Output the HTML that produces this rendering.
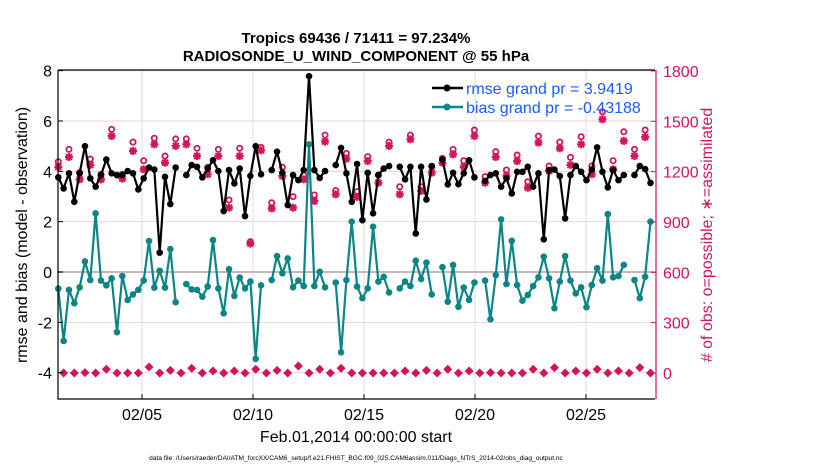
<!DOCTYPE html>
<html><head><meta charset="utf-8"><style>
body{margin:0;background:#fff;}
svg{display:block;font-family:"Liberation Sans",Arial,sans-serif;}
</style></head><body>
<svg id="chart" width="830" height="470" viewBox="0 0 830 470" xmlns="http://www.w3.org/2000/svg">
<rect width="830" height="470" fill="#fff"/>
<text x="356" y="43" font-size="15" font-weight="bold" text-anchor="middle">Tropics 69436 / 71411 = 97.234%</text>
<text x="356" y="61" font-size="15" font-weight="bold" text-anchor="middle">RADIOSONDE_U_WIND_COMPONENT @ 55 hPa</text>
<g id="grid"></g>
<g id="marks"></g>
<g id="axes"></g>
<text transform="translate(27,235) rotate(-90)" font-size="16" text-anchor="middle">rmse and bias (model - observation)</text>
<text transform="translate(712,235) rotate(-90)" font-size="16" fill="#d4145a" text-anchor="middle"># of obs: o=possible; ∗=assimilated</text>
<text x="356" y="442" font-size="16" text-anchor="middle">Feb.01,2014 00:00:00 start</text>
<text x="356" y="460" font-size="6.6" text-anchor="middle">data file: /Users/raeder/DAI/ATM_forcXX/CAM6_setup/f.e21.FHIST_BGC.f09_025.CAM6assim.011/Diags_NTrS_2014-02/obs_diag_output.nc</text>
<g>
<line x1="432" y1="88" x2="463" y2="88" stroke="#000" stroke-width="2.5"/>
<circle cx="447" cy="88" r="3.5" fill="#000"/>
<text x="466" y="94" font-size="16" fill="#1a5cff">rmse grand pr = 3.9419</text>
<line x1="432" y1="107" x2="463" y2="107" stroke="#0b8585" stroke-width="2.5"/>
<circle cx="447" cy="107" r="3.5" fill="#0b8585"/>
<text x="466" y="113" font-size="16" fill="#1a5cff">bias grand pr = -0.43188</text>
</g>
</svg>
<script>
const N=null;
const rmse=[3.76,3.32,3.92,2.79,3.92,5.00,3.72,3.39,3.85,4.47,3.92,3.85,3.85,4.01,3.92,3.28,3.72,4.15,4.07,0.77,3.78,2.70,4.15,N,3.85,4.25,4.18,3.76,4.11,4.44,4.01,2.42,4.05,3.52,4.11,2.22,3.82,5.00,3.88,N,4.05,4.78,3.94,2.66,3.85,3.65,4.05,7.78,4.05,3.74,4.01,N,4.25,4.93,3.92,2.79,4.29,2.06,3.94,2.33,3.85,4.11,4.21,N,4.18,3.68,4.18,1.53,4.18,2.88,4.21,N,4.47,3.48,3.94,3.49,3.92,4.44,3.76,N,3.62,3.85,3.92,3.39,3.72,3.12,3.98,3.98,4.18,3.39,3.92,1.30,4.05,4.07,3.81,2.13,3.85,4.21,3.98,3.65,4.07,4.95,3.98,3.36,4.05,3.65,3.85,N,3.85,4.21,4.09,3.54];
const bias=[-0.66,-2.74,-0.71,-1.24,-0.61,0.42,-0.32,2.33,-0.34,-0.53,-0.25,-2.39,-0.16,-1.11,-0.89,-0.71,-0.34,1.23,-0.62,0.05,-0.62,0.91,-1.20,N,-0.48,-0.69,-0.71,-0.98,-0.58,1.27,-0.65,-1.64,0.11,-0.95,-0.22,-0.65,-0.38,-3.45,-0.53,N,-0.32,0.63,-0.05,0.54,-0.61,-0.34,-0.56,5.07,-0.56,0.01,-0.61,N,-0.42,-3.19,-0.32,2.00,-0.58,-1.04,-0.65,1.80,-0.38,-0.19,-0.81,N,-0.65,-0.38,-0.56,0.45,-0.28,0.37,-0.89,N,0.19,-1.18,0.28,-1.38,-0.62,-1.11,-0.42,N,-0.34,-1.88,-0.12,2.09,-0.48,1.24,-0.52,-1.14,-0.91,-0.56,-0.21,0.61,-0.25,-1.44,-0.38,0.63,-0.34,-0.85,-0.61,-1.40,-0.52,0.15,-0.34,2.30,-0.21,-0.16,0.28,N,-0.32,-1.04,-0.19,2.00];
const possible=[1253,0,1327,0,1188,2,1269,0,1178,22,1446,0,1178,0,1370,0,1259,36,1393,0,1287,16,1389,0,1389,28,1333,0,1220,12,1327,0,1025,12,1333,0,777,22,1339,0,1009,16,1220,0,1045,42,1174,0,1055,22,1412,0,1081,28,1303,0,1075,0,1283,0,1174,0,1370,0,1104,12,1412,0,1104,16,1224,0,1273,22,1327,0,1259,12,1442,0,1164,2,1313,0,1204,0,1293,0,1134,22,1406,0,1228,32,1370,0,1279,12,1402,0,1228,22,1551,0,1259,12,1432,0,1327,32,1442,0];
const assimilated=[1228,0,1287,0,1154,2,1240,0,1154,22,1412,0,1158,0,1323,0,1214,36,1363,0,1253,16,1353,0,1363,28,1293,0,1184,12,1293,0,985,12,1293,0,771,22,1327,0,981,16,1174,0,985,42,1154,0,1025,22,1379,0,1065,28,1277,0,1049,0,1263,0,1134,0,1353,0,1065,12,1393,0,1085,16,1194,0,1253,22,1303,0,1228,12,1412,0,1134,2,1287,0,1174,0,1263,0,1104,22,1373,0,1204,32,1339,0,1240,12,1363,0,1184,22,1512,0,1214,12,1383,0,1293,32,1406,0];
const leftTicks=[-4,-2,0,2,4,6,8];
const rightTicks=[0,300,600,900,1200,1500,1800];
const dateTicks=["02/05","02/10","02/15","02/20","02/25"];
const dateDays=[4,9,14,19,24];

const PL=58,PR=655,PT=70,PB=399;
const xi=i=>58.3+i*5.335;
const xd=d=>53.2+d*22.2;
const yl=v=>272-v*25.17;
const yr=v=>373-v*0.1678;
const NS="http://www.w3.org/2000/svg";
function mk(tag,attrs,parent){const e=document.createElementNS(NS,tag);for(const k in attrs)e.setAttribute(k,attrs[k]);parent.appendChild(e);return e;}
const grid=document.getElementById('grid'),marks=document.getElementById('marks'),axes=document.getElementById('axes');
mk('rect',{x:PL,y:PT,width:PR-PL,height:PB-PT,fill:'#fff'},grid);
leftTicks.forEach(t=>{if(t===0)return;const l=mk('line',{x1:PL,x2:PR,y1:yl(t),y2:yl(t),stroke:'#f0d0dc','stroke-width':1},grid);

});
dateDays.forEach(d=>{const l=mk('line',{x1:xd(d),x2:xd(d),y1:PT,y2:PB,stroke:'#dcdcdc','stroke-width':1},grid);

});
const zl=mk('line',{x1:PL,x2:PR,y1:yl(0),y2:yl(0),stroke:'#c8b4bc','stroke-width':2},grid);



function drawSeries(arr,color,name){
  let d='',pen=false;
  arr.forEach((v,i)=>{if(v===null){pen=false;return;}d+=(pen?'L':'M')+xi(i).toFixed(1)+','+yl(v).toFixed(1);pen=true;});
  const p=mk('path',{d:d,fill:'none',stroke:color,'stroke-width':2.2,'stroke-linejoin':'round'},marks);
  
  
  arr.forEach((v,i)=>{if(v===null)return;const c=mk('circle',{cx:xi(i),cy:yl(v),r:3.3,fill:color},marks);
  
  });
}
const PINK='#d4145a';
possible.forEach((v,i)=>{if(v<100)return;const c=mk('circle',{cx:xi(i),cy:yr(v)-1,r:2.6,fill:'none',stroke:PINK,'stroke-width':1.8},marks);

});
assimilated.forEach((v,i)=>{const g=mk('g',{},marks);


const x=xi(i),y=yr(v),s=4;
if(v<100){mk('path',{d:`M${x},${y-4.5}L${x+4.5},${y}L${x},${y+4.5}L${x-4.5},${y}Z`,fill:PINK},g);return;}
mk('line',{x1:x-s,x2:x+s,y1:y,y2:y,stroke:PINK,'stroke-width':2.2},g);
mk('line',{x1:x,x2:x,y1:y-s,y2:y+s,stroke:PINK,'stroke-width':2.2},g);
mk('line',{x1:x-3,x2:x+3,y1:y-3,y2:y+3,stroke:PINK,'stroke-width':2},g);
mk('line',{x1:x-3,x2:x+3,y1:y+3,y2:y-3,stroke:PINK,'stroke-width':2},g);
});
drawSeries(rmse,'#000','rmse');
drawSeries(bias,'#0b8585','bias');

mk('path',{d:`M${PL},${PT}H${PR}M${PL},${PT}V${PB}H${PR}`,fill:'none',stroke:'#000','stroke-width':1.2},axes);
const ra=mk('line',{x1:PR+1,x2:PR+1,y1:PT,y2:PB,stroke:PINK,'stroke-width':1.2},axes);


leftTicks.forEach(t=>{mk('line',{x1:PL,x2:PL+5,y1:yl(t),y2:yl(t),stroke:'#000'},axes);
const tx=mk('text',{x:PL-6,y:yl(t)+6,'font-size':16,'text-anchor':'end'},axes);tx.textContent=t;

});
rightTicks.forEach(t=>{mk('line',{x1:PR-4,x2:PR+1,y1:yr(t),y2:yr(t),stroke:PINK},axes);
const tx=mk('text',{x:PR+8,y:yr(t)+6,'font-size':16,fill:PINK},axes);tx.textContent=t;

});
dateTicks.forEach((lab,k)=>{const x=xd(dateDays[k]);mk('line',{x1:x,x2:x,y1:PB,y2:PB-5,stroke:'#000'},axes);
const tx=mk('text',{x:x,y:420,'font-size':16,'text-anchor':'middle'},axes);tx.textContent=lab;

});
</script>
</body></html>
